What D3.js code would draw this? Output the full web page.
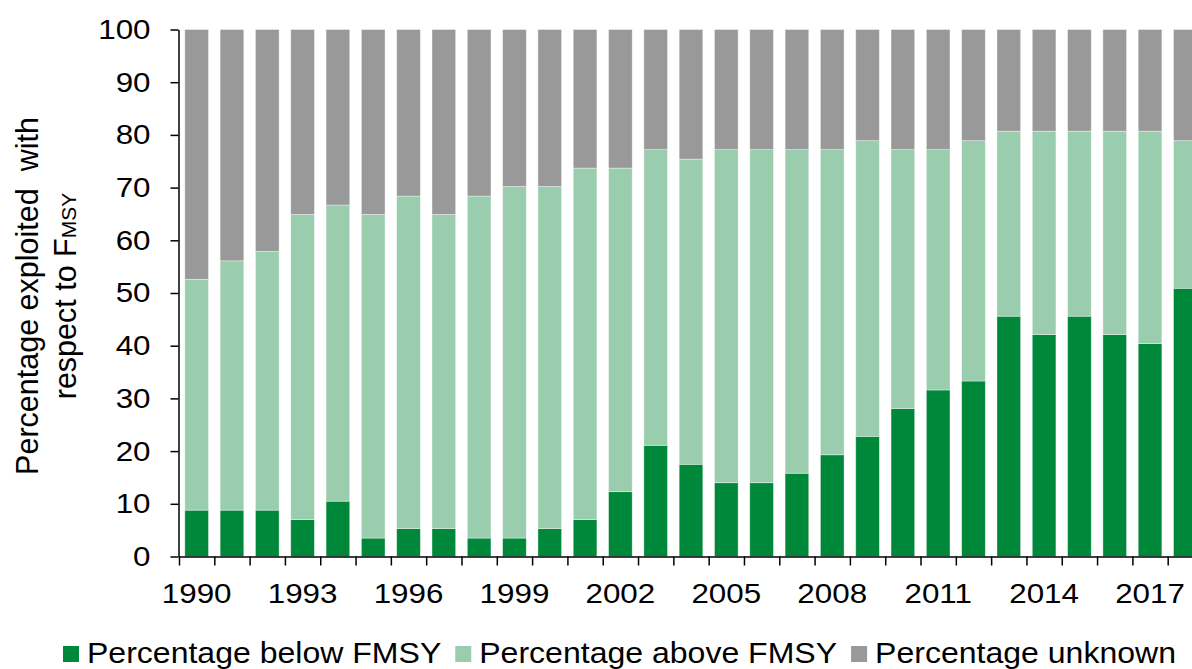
<!DOCTYPE html>
<html>
<head>
<meta charset="utf-8">
<script src="https://cdn.jsdelivr.net/npm/d3@7"></script>
<style>
  body { margin: 0; background: #fff; }
  svg { display: block; font-family: "Liberation Sans", Arial, sans-serif; }
</style>
</head>
<body>
<div id="chart"></div>
<script>
const years = [1990, 1991, 1992, 1993, 1994, 1995, 1996, 1997, 1998, 1999,
  2000, 2001, 2002, 2003, 2004, 2005, 2006, 2007, 2008, 2009,
  2010, 2011, 2012, 2013, 2014, 2015, 2016, 2017, 2018];
const belowFmsy = [8.8, 8.8, 8.8, 7.0, 10.5, 3.5, 5.3, 5.3, 3.5, 3.5,
  5.3, 7.0, 12.3, 21.1, 17.5, 14.0, 14.0, 15.8, 19.3, 22.8,
  28.1, 31.6, 33.3, 45.6, 42.1, 45.6, 42.1, 40.4, 50.9];
const aboveFmsy = [43.8, 47.3, 49.1, 57.9, 56.2, 61.4, 63.1, 59.6, 64.9, 66.7,
  64.9, 66.7, 61.4, 56.1, 57.9, 63.2, 63.2, 61.4, 57.9, 56.1,
  49.1, 45.6, 45.6, 35.1, 38.6, 35.1, 38.6, 40.3, 28.0];
const unknown = [47.4, 43.9, 42.1, 35.1, 33.3, 35.1, 31.6, 35.1, 31.6, 29.8,
  29.8, 26.3, 26.3, 22.8, 24.6, 22.8, 22.8, 22.8, 22.8, 21.1,
  22.8, 22.8, 21.1, 19.3, 19.3, 19.3, 19.3, 19.3, 21.1];
const yTicks = [0, 10, 20, 30, 40, 50, 60, 70, 80, 90, 100];
const xLabelYears = [1990, 1993, 1996, 1999, 2002, 2005, 2008, 2011, 2014, 2017];
const seriesKeys = ["below", "above", "unknown"];
const seriesNames = ["Percentage below FMSY", "Percentage above FMSY", "Percentage unknown"];
const seriesColors = ["#00883a", "#99cdae", "#999999"];

const width = 1192;
const height = 669;
const fontSize = 28;
const stretch = 1.12; // text in the picture is a bit wider than it is tall

// table for d3.stack
const table = years.map((yr, i) => ({
  year: yr,
  below: belowFmsy[i],
  above: aboveFmsy[i],
  unknown: unknown[i]
}));
const stacked = d3.stack().keys(seriesKeys)(table);

const x = d3
  .scaleBand()
  .domain(years)
  .range([179, 1203])
  .paddingInner(0.33)
  .paddingOuter(0.165);

const xEdges = d3.scaleLinear().domain([0, years.length]).range([179, 1203]);

const y = d3.scaleLinear().domain([0, 100]).range([556.5, 29.5]);

const svg = d3
  .select("#chart")
  .append("svg")
  .attr("width", width)
  .attr("height", height);

// bars
svg
  .append("g")
  .selectAll("g")
  .data(stacked)
  .join("g")
  .attr("fill", (d, i) => seriesColors[i])
  .selectAll("rect")
  .data((d) => d)
  .join("rect")
  .attr("x", (d) => x(d.data.year))
  .attr("y", (d) => y(d[1]))
  .attr("width", x.bandwidth())
  .attr("height", (d) => y(d[0]) - y(d[1]))
  .attr("stroke", "#fff")
  .attr("stroke-opacity", 0.5)
  .attr("stroke-width", 0.75);

// y axis
const yAxis = svg
  .append("g")
  .attr("transform", "translate(178.5,0)")
  .call(
    d3.axisLeft(y).tickValues(yTicks).tickSize(8).tickSizeOuter(0).tickPadding(20)
  );
yAxis.selectAll("path, line").attr("stroke", "#000").attr("stroke-width", 1.5);
yAxis
  .selectAll("text")
  .attr("font-size", fontSize)
  .attr("font-family", "Liberation Sans, Arial, sans-serif")
  .attr("fill", "#000")
  .attr("x", -28 / stretch)
  .attr("transform", `scale(${stretch},1)`);

// x axis: ticks on the category edges
const xTickAxis = svg
  .append("g")
  .attr("transform", "translate(0,556.5)")
  .call(
    d3.axisBottom(xEdges)
      .tickValues(d3.range(years.length + 1))
      .tickSize(9)
      .tickSizeOuter(0)
      .tickFormat("")
  );
xTickAxis.selectAll("path, line").attr("stroke", "#000").attr("stroke-width", 1.5);

// x axis labels, every third year
const xLabelAxis = svg
  .append("g")
  .attr("transform", "translate(0,556.5)")
  .call(d3.axisBottom(x).tickValues(xLabelYears).tickSize(0).tickPadding(27));
xLabelAxis.select(".domain").remove();
xLabelAxis
  .selectAll("text")
  .attr("font-size", fontSize)
  .attr("font-family", "Liberation Sans, Arial, sans-serif")
  .attr("fill", "#000")
  .attr("transform", `scale(${stretch},1)`)
  .attr("x", 0);
xLabelAxis.selectAll(".tick").each(function (d) {
  d3.select(this).attr("transform", `translate(${x(d) + x.bandwidth() / 2},0)`);
});

// y axis title
const title = svg
  .append("text")
  .attr("transform", "translate(0,296) rotate(-90)")
  .attr("text-anchor", "middle")
  .attr("font-size", 30.5)
  .attr("fill", "#000")
  .style("white-space", "pre");
title.append("tspan").attr("x", 0).attr("y", 38).text("Percentage exploited  with");
const line2 = title.append("tspan").attr("x", 0).attr("y", 76);
line2.append("tspan").text("respect to F");
line2.append("tspan").attr("font-size", 21).text("MSY");

// legend
let lx = 63;
seriesNames.forEach((name, i) => {
  svg
    .append("rect")
    .attr("x", lx)
    .attr("y", 646)
    .attr("width", 16)
    .attr("height", 16)
    .attr("fill", seriesColors[i]);
  const g = svg
    .append("g")
    .attr("transform", `translate(${lx + 24},663) scale(${stretch},1)`);
  const t = g
    .append("text")
    .attr("font-size", 28.6)
    .attr("fill", "#000")
    .text(name);
  lx += 24 + t.node().getComputedTextLength() * stretch + 14;
});
</script>
</body>
</html>
